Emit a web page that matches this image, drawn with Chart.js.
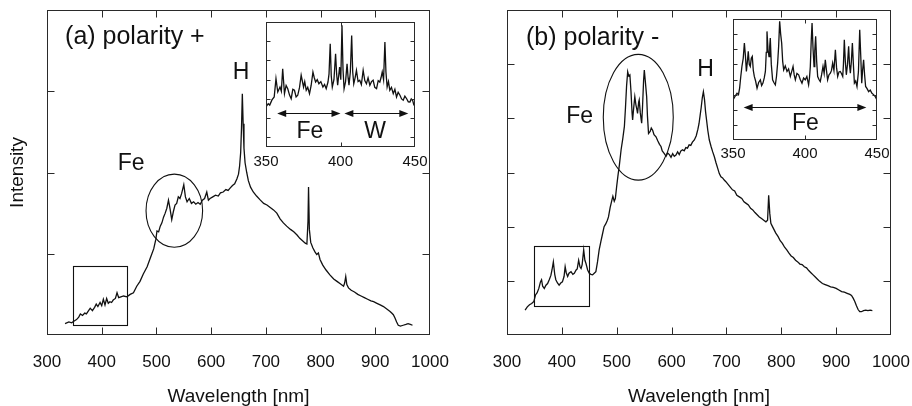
<!DOCTYPE html>
<html>
<head>
<meta charset="utf-8">
<script src="https://cdn.jsdelivr.net/npm/chart.js@4.4.0/dist/chart.umd.min.js"></script>
<style>
  body { margin: 0; background: #fff; }
  #wrap { position: relative; width: 912px; height: 406px; overflow: hidden; }
  canvas { position: absolute; }
</style>
</head>
<body>
<div id="wrap">
  <canvas id="mainA" width="456" height="406" style="left:0;top:0"></canvas>
  <canvas id="mainB" width="456" height="406" style="left:456px;top:0"></canvas>
  <canvas id="insetA" width="189" height="160" style="left:246px;top:12px"></canvas>
  <canvas id="insetB" width="184" height="156" style="left:713px;top:9px"></canvas>
</div>
<script>
const FONT = '"Liberation Sans", Arial, Helvetica, sans-serif';
const INK = '#111';

// (a) polarity +  -- full spectrum
const wlA = [333, 340, 345, 349, 354, 358, 361, 365, 369, 372, 376, 379, 383, 387, 390, 393, 397, 400, 403, 406,
  409, 412, 415, 418, 421, 425, 428, 431, 435, 440, 446, 452, 458, 464, 470, 476, 483, 489, 495, 499,
  501, 504, 507, 510, 513, 516, 519, 522, 525, 528, 531, 534, 537, 540, 543, 546, 550, 553, 556, 560,
  564, 568, 572, 576, 580, 584, 588, 592, 595, 598, 603, 608, 613, 617, 622, 627, 631, 635, 639, 643,
  647, 650, 652, 654, 655.5, 657, 658.5, 660, 662, 665, 668, 672, 677, 683, 690, 696, 702, 708, 714, 720,
  726, 732, 738, 745, 751, 757, 762, 767, 772, 775, 777, 778, 779.5, 782, 786, 790, 793, 796, 799, 804,
  810, 817, 824, 830, 836, 842, 844, 846, 848, 851, 856, 862, 868, 874, 880, 886, 892, 897, 903, 909,
  915, 921, 927, 930, 933, 936, 939, 942, 946, 951, 956, 960, 964, 968];
const intA = [0.14, 0.16, 0.15, 0.17, 0.19, 0.22, 0.26, 0.24, 0.27, 0.26, 0.30, 0.33, 0.30, 0.34, 0.38, 0.35, 0.40, 0.36, 0.44, 0.37,
  0.45, 0.39, 0.41, 0.40, 0.43, 0.45, 0.52, 0.46, 0.47, 0.48, 0.47, 0.50, 0.52, 0.60, 0.66, 0.75, 0.84, 0.95, 1.06, 1.18,
  1.28, 1.27, 1.34, 1.38, 1.45, 1.50, 1.56, 1.66, 1.55, 1.42, 1.52, 1.60, 1.62, 1.70, 1.68, 1.74, 1.85, 1.70, 1.64, 1.68,
  1.62, 1.64, 1.61, 1.63, 1.61, 1.66, 1.68, 1.76, 1.66, 1.68, 1.70, 1.72, 1.71, 1.75, 1.76, 1.79, 1.78, 1.81, 1.84, 1.86,
  1.92, 1.98, 2.08, 2.25, 2.55, 2.97, 2.60, 2.30, 2.12, 2.00, 1.90, 1.82, 1.76, 1.71, 1.66, 1.62, 1.60, 1.57, 1.54, 1.50,
  1.43, 1.38, 1.34, 1.30, 1.27, 1.23, 1.19, 1.16, 1.13, 1.12, 1.40, 1.82, 1.30, 1.14, 1.07, 1.02, 0.99, 1.01, 0.93, 0.86,
  0.80, 0.74, 0.69, 0.66, 0.63, 0.60, 0.64, 0.72, 0.62, 0.58, 0.55, 0.53, 0.50, 0.48, 0.46, 0.44, 0.42, 0.41, 0.39, 0.37,
  0.35, 0.32, 0.29, 0.27, 0.25, 0.21, 0.16, 0.12, 0.11, 0.12, 0.13, 0.14, 0.13, 0.12];

// (b) polarity -  -- full spectrum
const wlB = [333, 337, 341, 345, 349, 352, 355, 358, 361, 363, 365, 368, 371, 374, 377, 380, 382, 384.5, 387, 389,
  392, 395, 398, 401, 404, 406, 408, 410.6, 413, 416.7, 420, 422.7, 426, 428, 430.6, 433, 435, 437, 439.8, 442,
  444, 447, 450, 453, 456, 459, 462, 465, 468, 471, 474, 477, 480, 483, 485, 488, 491, 493, 495.5, 497.5,
  500, 502, 505, 508, 511, 514, 516, 518, 520, 522, 524, 526, 528, 529, 531, 533, 535, 537, 538, 540,
  541, 543, 545.5, 547, 549, 550.3, 552, 554.6, 556, 558, 561, 563, 565.5, 568, 571.6, 575, 578, 580.7, 583, 586.8,
  590, 593, 596, 599, 602, 605, 608, 611, 614, 617, 620, 623, 626, 629, 632, 635, 638, 641.5, 645, 648,
  650, 652, 654, 656, 658, 660, 662, 664, 666, 668.8, 672, 675, 678, 681, 684, 687, 690, 693, 696, 699,
  703, 707, 711, 715, 719, 723.5, 728, 732, 736, 740, 744, 748, 752, 756, 760, 764, 768, 772, 775, 777,
  779, 781, 784, 787, 790, 794, 798, 802, 806, 810, 814, 818, 822, 826, 830, 834, 838, 842, 846, 850,
  854, 858, 862, 866, 870, 875, 880, 885, 890, 895, 900, 905, 910, 915, 920, 925, 928, 931, 934, 937,
  940, 943, 946, 950, 954, 958, 962, 966];
const intB = [0.46, 0.52, 0.56, 0.58, 0.62, 0.74, 0.78, 0.86, 0.98, 1.02, 0.90, 0.86, 0.92, 0.95, 1.02, 1.10, 1.20, 1.35, 1.12, 1.02,
  0.96, 0.92, 0.96, 0.98, 1.08, 1.26, 1.15, 1.08, 1.14, 1.17, 1.12, 1.14, 1.20, 1.22, 1.38, 1.26, 1.23, 1.30, 1.57, 1.38,
  1.32, 1.20, 1.14, 1.12, 1.11, 1.14, 1.17, 1.35, 1.57, 1.72, 1.86, 2.00, 2.05, 2.12, 2.18, 2.35, 2.48, 2.56, 2.47, 2.52,
  2.75, 2.92, 3.15, 3.42, 3.62, 3.85, 4.20, 4.60, 4.86, 4.78, 4.80, 4.50, 4.10, 3.97, 4.20, 4.40, 4.25, 4.15, 4.09, 4.30,
  4.34, 4.10, 3.91, 4.20, 4.70, 4.89, 4.70, 4.40, 4.05, 3.72, 3.76, 3.82, 3.78, 3.70, 3.66, 3.58, 3.52, 3.48, 3.40, 3.35,
  3.30, 3.36, 3.33, 3.28, 3.35, 3.30, 3.32, 3.38, 3.33, 3.40, 3.42, 3.40, 3.46, 3.45, 3.51, 3.50, 3.56, 3.60, 3.68, 3.80,
  3.90, 4.05, 4.20, 4.38, 4.49, 4.35, 4.12, 3.95, 3.78, 3.60, 3.48, 3.38, 3.29, 3.18, 3.08, 2.98, 2.92, 2.90, 2.86, 2.83,
  2.78, 2.73, 2.68, 2.66, 2.58, 2.55, 2.52, 2.46, 2.43, 2.40, 2.34, 2.31, 2.26, 2.22, 2.18, 2.15, 2.12, 2.09, 2.12, 2.58,
  2.25, 2.06, 2.00, 1.94, 1.88, 1.82, 1.74, 1.69, 1.62, 1.57, 1.51, 1.46, 1.43, 1.38, 1.35, 1.31, 1.30, 1.26, 1.24, 1.19,
  1.15, 1.11, 1.07, 1.03, 0.99, 0.95, 0.93, 0.91, 0.89, 0.88, 0.86, 0.83, 0.80, 0.79, 0.77, 0.75, 0.73, 0.68, 0.62, 0.54,
  0.47, 0.43, 0.43, 0.45, 0.46, 0.45, 0.46, 0.45];

// inset (a): 350-450 nm zoom
const wlInA = [350, 351.5, 352.5, 354, 355.5, 356.7, 357.9, 359.4, 360.3, 361.2, 362.4, 363.5, 364.6, 365.8, 366.9, 368, 369.1, 370.2, 371.3, 372.5,
  373.6, 375.2, 376, 377, 378, 379.2, 380.3, 381.5, 382.4, 383.3, 384.4, 385.5, 386.8, 388.2, 389.3, 390.4, 391.6, 392.3, 393.1, 393.8,
  394.5, 395.6, 396.7, 397.4, 398.1, 399.4, 400.2, 401, 401.7, 402.4, 403.4, 404.4, 405.1, 405.7, 406.6, 407.5, 408.2, 408.9, 409.8, 410.7,
  411.8, 412.9, 414, 415.2, 416.3, 417.4, 418.5, 419.7, 420.8, 421.9, 423, 424.2, 425.3, 426.4, 427.2, 428, 428.9, 429.8, 430.5, 431.3,
  432.2, 433.1, 434.2, 435.4, 436.5, 437.6, 438.7, 439.9, 441, 442.1, 443.2, 444.4, 445.5, 446.6, 447.5, 448.4, 449.2, 450];
const intInA = [1.58, 1.75, 1.68, 1.95, 2.10, 3.05, 2.36, 2.62, 2.40, 3.57, 2.27, 2.70, 2.53, 2.20, 2.01, 2.50, 2.45, 2.10, 2.19, 2.60,
  3.23, 2.62, 2.90, 2.45, 2.60, 2.27, 2.70, 3.40, 3.10, 2.88, 3.00, 2.79, 2.90, 2.62, 2.75, 2.53, 2.88, 3.30, 4.87, 3.20,
  2.62, 3.00, 4.35, 3.30, 2.71, 3.66, 3.00, 5.83, 3.50, 2.53, 2.90, 3.83, 3.10, 2.71, 3.40, 5.30, 3.40, 2.79, 3.10, 3.49,
  2.90, 2.97, 2.75, 3.49, 2.95, 2.79, 3.10, 2.71, 2.90, 2.97, 2.60, 2.53, 2.95, 2.88, 3.10, 3.40, 3.00, 4.96, 3.40, 2.62,
  2.90, 2.45, 2.60, 2.27, 2.50, 2.10, 2.35, 2.19, 2.00, 1.93, 2.15, 2.01, 1.85, 1.84, 2.00, 1.93, 1.70, 1.62];

// inset (b): 350-450 nm zoom
const wlInB = [350, 351.5, 352.8, 353.8, 354.6, 355.4, 356.2, 357.1, 357.9, 358.6, 359.3, 360, 360.6, 361.3, 362, 362.7, 363.4, 364.1, 364.8, 365.7,
  366.7, 367.8, 369, 369.9, 370.8, 371.7, 372.5, 373.1, 373.6, 374.3, 375, 375.5, 375.9, 376.6, 377.5, 378.4, 379.4, 380.2, 381, 381.7,
  382.4, 383.1, 383.8, 384.5, 385.2, 386.3, 387.5, 388.6, 389.8, 390.7, 391.7, 392.5, 393.3, 394.4, 395.6, 396.7, 397.9, 399, 400.2, 401.3,
  402.5, 403.1, 403.7, 404.3, 404.9, 405.6, 406.3, 406.8, 407.4, 408.1, 408.8, 409.7, 410.6, 411.5, 412.5, 413.3, 414.1, 414.9, 415.7, 416.6,
  417.6, 418.4, 419.2, 420.1, 421.1, 421.9, 422.7, 423.6, 424.5, 425.3, 426.2, 426.7, 427.3, 428, 428.7, 429.5, 430.3, 430.9, 431.5, 432.2,
  432.9, 433.6, 434.3, 435.2, 436.1, 437.1, 438, 438.7, 439.4, 440, 440.7, 441.4, 442.1, 443.1, 444.2, 445.3, 446.5, 447.6, 448.8, 450];
const intInB = [2.65, 2.90, 3.09, 3.00, 3.43, 4.20, 4.86, 5.40, 6.41, 5.60, 4.53, 5.20, 5.86, 5.00, 4.86, 5.40, 5.52, 4.60, 4.20, 3.90,
  3.43, 3.80, 3.98, 3.60, 3.76, 4.10, 4.53, 5.80, 7.18, 6.00, 5.52, 6.20, 6.74, 5.00, 3.98, 3.80, 3.65, 4.20, 5.08, 6.20,
  7.85, 7.00, 6.41, 5.20, 4.64, 4.90, 4.53, 4.70, 4.20, 4.50, 4.86, 4.30, 3.98, 4.40, 4.31, 4.00, 3.76, 4.10, 3.98, 4.20,
  3.65, 4.10, 4.86, 6.50, 7.73, 6.00, 4.86, 5.90, 6.85, 5.20, 4.20, 4.00, 3.87, 4.30, 4.86, 4.40, 5.30, 4.60, 3.98, 4.30,
  4.42, 4.60, 5.08, 4.60, 5.97, 4.80, 4.20, 4.50, 4.53, 4.40, 4.20, 5.00, 6.63, 5.20, 4.31, 5.00, 6.19, 5.00, 4.42, 5.20,
  6.41, 5.00, 3.76, 3.90, 3.54, 4.50, 7.29, 5.60, 3.76, 4.60, 5.30, 4.30, 3.54, 3.40, 3.20, 3.30, 3.09, 3.00, 2.87, 2.65];

// tick values
const mainXTicks = [300, 400, 500, 600, 700, 800, 900, 1000];
const mainYTicksA = [0, 1, 2, 3, 4];
const mainYTicksB = [0, 1, 2, 3, 4, 5, 6];
const insetXTicks = [350, 400, 450];
const insetYTicksA = [0, 1, 2, 3, 4, 5];
const insetYTicksB = [1, 2, 3, 4, 5, 6, 7];

// annotations in data units
const ellipseA = [532.7, 1.53, 51.7, 0.45];   // cx, cy, rx, ry
const boxA = [348, 447, 0.12, 0.85];          // x1, x2, y1, y2
const ellipseB = [539.3, 4.02, 63.8, 1.16];
const boxB = [350, 449.5, 0.53, 1.64];
const labelsA = [['(a) polarity +', 333, 3.67, 25, 'left'], ['Fe', 453.8, 2.11, 23, 'center'], ['H', 654.6, 3.23, 23, 'center']];
const labelsB = [['(b) polarity -', 334.6, 5.48, 25, 'left'], ['Fe', 432.5, 4.04, 23, 'center'], ['H', 661.9, 4.90, 23, 'center']];
const labelsInA = [['Fe', 379.5, 0.32, 23, 'center'], ['W', 423.2, 0.32, 23, 'center']];
const labelsInB = [['Fe', 400.3, 1.06, 23, 'center']];
const arrowsInA = [[357.5, 400, 1.25], [402.6, 445.5, 1.25]];
const arrowsInB = [[357.4, 442.6, 2.18]];

function pts(xs, ys) {
  if (xs.length !== ys.length) throw new Error('length mismatch ' + xs.length + ' vs ' + ys.length);
  return xs.map((x, i) => ({x: x, y: ys[i]}));
}

// frame with inward ticks on all four sides
function framePlugin(len) {
  return {
    id: 'frame',
    afterDraw(chart) {
      const ctx = chart.ctx, a = chart.chartArea, sx = chart.scales.x, sy = chart.scales.y;
      const L = Math.round(a.left) + 0.5, R = Math.round(a.right) - 0.5;
      const T = Math.round(a.top) + 0.5, B = Math.round(a.bottom) - 0.5;
      ctx.save();
      ctx.strokeStyle = '#2a2a2a';
      ctx.lineWidth = 1;
      ctx.strokeRect(L, T, R - L, B - T);
      ctx.beginPath();
      sx.ticks.forEach(t => {
        if (t.value <= sx.min || t.value >= sx.max) return;
        const p = Math.round(sx.getPixelForValue(t.value)) + 0.5;
        ctx.moveTo(p, B); ctx.lineTo(p, B - len);
        ctx.moveTo(p, T); ctx.lineTo(p, T + len);
      });
      sy.ticks.forEach(t => {
        if (t.value <= sy.min || t.value >= sy.max) return;
        const p = Math.round(sy.getPixelForValue(t.value)) + 0.5;
        ctx.moveTo(L, p); ctx.lineTo(L + len, p);
        ctx.moveTo(R, p); ctx.lineTo(R - len, p);
      });
      ctx.stroke();
      ctx.restore();
    }
  };
}

// circles, boxes, arrows and text labels, placed through the scales
function decorPlugin(d) {
  return {
    id: 'decor',
    afterDraw(chart) {
      const ctx = chart.ctx, sx = chart.scales.x, sy = chart.scales.y;
      const X = v => sx.getPixelForValue(v), Y = v => sy.getPixelForValue(v);
      ctx.save();
      ctx.strokeStyle = INK; ctx.fillStyle = INK; ctx.lineWidth = 1.1;
      (d.ellipses || []).forEach(e => {
        ctx.beginPath();
        ctx.ellipse(X(e[0]), Y(e[1]), Math.abs(X(e[0] + e[2]) - X(e[0])), Math.abs(Y(e[1] + e[3]) - Y(e[1])), 0, 0, Math.PI * 2);
        ctx.stroke();
      });
      (d.boxes || []).forEach(b => {
        const x1 = Math.round(X(b[0])) + 0.5, x2 = Math.round(X(b[1])) + 0.5;
        const y1 = Math.round(Y(b[2])) + 0.5, y2 = Math.round(Y(b[3])) + 0.5;
        ctx.strokeRect(x1, y2, x2 - x1, y1 - y2);
      });
      (d.arrows || []).forEach(r => {
        const x1 = X(r[0]), x2 = X(r[1]), y = Math.round(Y(r[2])) + 0.5, h = 9, w = 3.5;
        ctx.beginPath(); ctx.moveTo(x1 + h - 1, y); ctx.lineTo(x2 - h + 1, y); ctx.stroke();
        ctx.beginPath(); ctx.moveTo(x1, y); ctx.lineTo(x1 + h, y - w); ctx.lineTo(x1 + h, y + w); ctx.closePath(); ctx.fill();
        ctx.beginPath(); ctx.moveTo(x2, y); ctx.lineTo(x2 - h, y - w); ctx.lineTo(x2 - h, y + w); ctx.closePath(); ctx.fill();
      });
      ctx.textBaseline = 'middle';
      (d.labels || []).forEach(l => {
        ctx.font = l[3] + 'px ' + FONT;
        ctx.textAlign = l[4];
        ctx.fillText(l[0], X(l[1]), Y(l[2]));
      });
      ctx.restore();
    }
  };
}

function spectrum(id, xs, ys, o) {
  return new Chart(document.getElementById(id), {
    type: 'line',
    data: {datasets: [{data: pts(xs, ys), borderColor: INK, borderWidth: 1.3, pointRadius: 0, tension: 0, fill: false}]},
    options: {
      responsive: false, animation: false, events: [],
      layout: {padding: o.pad},
      plugins: {legend: {display: false}, tooltip: {enabled: false}},
      scales: {
        x: {
          type: 'linear', min: o.xMin, max: o.xMax,
          afterBuildTicks: s => { s.ticks = o.xTicks.map(v => ({value: v})); },
          // fixed band height; label overhang goes into the layout padding
          afterFit: s => { s.height = o.xH; s.paddingLeft = 0; s.paddingRight = 0; },
          grid: {display: false, drawTicks: false}, border: {display: false},
          ticks: {font: {family: FONT, size: o.tickSize}, color: INK, padding: o.tickPad, maxRotation: 0, callback: v => String(v)},
          title: o.xTitle ? {display: true, text: o.xTitle, color: INK, font: {family: FONT, size: 19, lineHeight: 1}, padding: {top: 0, bottom: 0}} : {display: false}
        },
        y: {
          type: 'linear', min: o.yMin, max: o.yMax,
          afterBuildTicks: s => { s.ticks = o.yTicks.map(v => ({value: v})); },
          afterFit: s => { s.width = o.yW; s.paddingTop = 0; s.paddingBottom = 0; },
          grid: {display: false, drawTicks: false}, border: {display: false},
          ticks: {display: false},
          title: o.yTitle ? {display: true, text: o.yTitle, color: INK, font: {family: FONT, size: 19}, padding: {top: 6, bottom: 0}} : {display: false}
        }
      }
    },
    plugins: [framePlugin(o.tickLen), decorPlugin(o.decor)]
  });
}

spectrum('mainA', wlA, intA, {
  pad: {top: 10, right: 26, left: 0, bottom: 0}, xMin: 300, xMax: 1000, yMin: 0, yMax: 4,
  xTicks: mainXTicks, yTicks: mainYTicksA, xH: 71, yW: 47, tickSize: 17, tickPad: 17, tickLen: 7,
  xTitle: 'Wavelength [nm]', yTitle: 'Intensity',
  decor: {ellipses: [ellipseA], boxes: [boxA], labels: labelsA}
});

spectrum('mainB', wlB, intB, {
  pad: {top: 10, right: 21, left: 0, bottom: 0}, xMin: 300, xMax: 1000, yMin: 0, yMax: 6,
  xTicks: mainXTicks, yTicks: mainYTicksB, xH: 71, yW: 51, tickSize: 17, tickPad: 17, tickLen: 7,
  xTitle: 'Wavelength [nm]',
  decor: {ellipses: [ellipseB], boxes: [boxB], labels: labelsB}
});

spectrum('insetA', wlInA, intInA, {
  pad: {top: 10, right: 20, left: 0, bottom: 0}, xMin: 350, xMax: 450, yMin: -0.5, yMax: 6,
  xTicks: insetXTicks, yTicks: insetYTicksA, xH: 25, yW: 20, tickSize: 15, tickPad: 6, tickLen: 4,
  decor: {arrows: arrowsInA, labels: labelsInA}
});

spectrum('insetB', wlInB, intInB, {
  pad: {top: 10, right: 20, left: 0, bottom: 0}, xMin: 350, xMax: 450, yMin: 0, yMax: 8,
  xTicks: insetXTicks, yTicks: insetYTicksB, xH: 25, yW: 20, tickSize: 15, tickPad: 5, tickLen: 4,
  decor: {arrows: arrowsInB, labels: labelsInB}
});
</script>
</body>
</html>
